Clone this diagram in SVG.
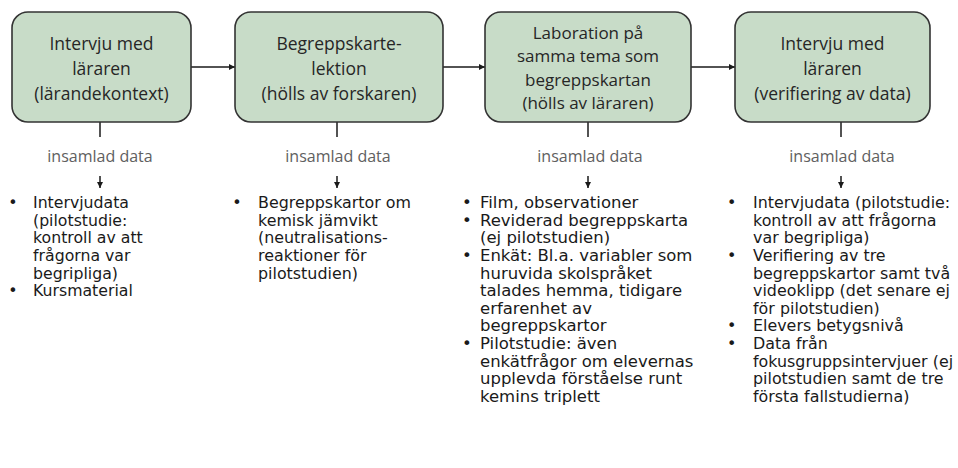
<svg xmlns="http://www.w3.org/2000/svg" width="958" height="468" viewBox="0 0 958 468">
<style>
.box{fill:#c8dcc8;stroke:#333333;stroke-width:1.6}
.bt{font-family:"Open Sans","Liberation Sans",sans-serif;font-size:17.5px;fill:#262626;text-anchor:middle}
.bt3{font-family:"Open Sans","Liberation Sans",sans-serif;font-size:17px;fill:#262626;text-anchor:middle}
.lbl{font-family:"Open Sans","Liberation Sans",sans-serif;font-size:16px;fill:#606060;text-anchor:middle}
.li{font-family:"DejaVu Sans","Liberation Sans",sans-serif;font-size:15px;fill:#1a1a1a}
.ln{stroke:#1a1a1a;stroke-width:1.5;fill:none}
</style>
<defs>
<marker id="ah" viewBox="0 0 10 10" refX="10" refY="5" markerWidth="6" markerHeight="6" orient="auto" markerUnits="userSpaceOnUse">
<path d="M0,0 L10,5 L0,10 z" fill="#1a1a1a"/>
</marker>
<marker id="ahs" viewBox="0 0 10 10" refX="10" refY="5" markerWidth="6" markerHeight="7" orient="auto" markerUnits="userSpaceOnUse">
<path d="M0,0 L10,5 L0,10 z" fill="#1a1a1a"/>
</marker>
</defs>

<g id="connectors">
<line class="ln" x1="191" y1="67" x2="235" y2="67" marker-end="url(#ah)"/>
<line class="ln" x1="443" y1="67" x2="485" y2="67" marker-end="url(#ah)"/>
<line class="ln" x1="691" y1="67" x2="735" y2="67" marker-end="url(#ah)"/>
<line class="ln" x1="100" y1="122" x2="100" y2="137"/>
<line class="ln" x1="337" y1="122" x2="337" y2="137"/>
<line class="ln" x1="588" y1="122" x2="588" y2="137"/>
<line class="ln" x1="841" y1="122" x2="841" y2="137"/>
<line class="ln" x1="100" y1="176" x2="100" y2="188" marker-end="url(#ahs)"/>
<line class="ln" x1="337" y1="176" x2="337" y2="188" marker-end="url(#ahs)"/>
<line class="ln" x1="588" y1="176" x2="588" y2="188" marker-end="url(#ahs)"/>
<line class="ln" x1="841" y1="176" x2="841" y2="188" marker-end="url(#ahs)"/>
</g>

<g id="node1">
<rect class="box" x="12" y="12" width="179" height="110" rx="16"/>
<text class="bt"><tspan x="101.5" y="50">Intervju med</tspan><tspan x="101.5" y="75">läraren</tspan><tspan x="101.5" y="100">(lärandekontext)</tspan></text>
</g>
<g id="node2">
<rect class="box" x="235" y="12" width="208" height="110" rx="16"/>
<text class="bt"><tspan x="339" y="50">Begreppskarte-</tspan><tspan x="339" y="75">lektion</tspan><tspan x="339" y="100">(hölls av forskaren)</tspan></text>
</g>
<g id="node3">
<rect class="box" x="485" y="12" width="206" height="110" rx="16"/>
<text class="bt3"><tspan x="588" y="39">Laboration på</tspan><tspan x="588" y="62.4">samma tema som</tspan><tspan x="588" y="85.8">begreppskartan</tspan><tspan x="588" y="109.2">(hölls av läraren)</tspan></text>
</g>
<g id="node4">
<rect class="box" x="735" y="12" width="195" height="110" rx="16"/>
<text class="bt"><tspan x="832.5" y="50">Intervju med</tspan><tspan x="832.5" y="75">läraren</tspan><tspan x="832.5" y="100">(verifiering av data)</tspan></text>
</g>

<g id="labels">
<text class="lbl" x="100" y="162">insamlad data</text>
<text class="lbl" x="338" y="162">insamlad data</text>
<text class="lbl" x="590" y="162">insamlad data</text>
<text class="lbl" x="842" y="162">insamlad data</text>
</g>

<g id="list1">
<text class="li" transform="translate(33,0) scale(1.05,1)"><tspan x="-23.5" y="208">•</tspan><tspan x="0" y="208">Intervjudata</tspan><tspan x="0" y="225.6">(pilotstudie:</tspan><tspan x="0" y="243.3">kontroll av att</tspan><tspan x="0" y="260.9">frågorna var</tspan><tspan x="0" y="278.6">begripliga)</tspan><tspan x="-23.5" y="296.2">•</tspan><tspan x="0" y="296.2">Kursmaterial</tspan></text>
</g>

<g id="list2">
<text class="li" transform="translate(258,0) scale(1.06,1)"><tspan x="-24.2" y="208">•</tspan><tspan x="0" y="208">Begreppskartor om</tspan><tspan x="0" y="225.6">kemisk jämvikt</tspan><tspan x="0" y="243.3">(neutralisations-</tspan><tspan x="0" y="260.9">reaktioner för</tspan><tspan x="0" y="278.6">pilotstudien)</tspan></text>
</g>

<g id="list3">
<text class="li" transform="translate(480,0) scale(1.1,1)"><tspan x="-16.3" y="208">•</tspan><tspan x="0" y="208">Film, observationer</tspan><tspan x="-16.3" y="225.6">•</tspan><tspan x="0" y="225.6">Reviderad begreppskarta</tspan><tspan x="0" y="243.3">(ej pilotstudien)</tspan><tspan x="-16.3" y="260.9">•</tspan><tspan x="0" y="260.9">Enkät: Bl.a. variabler som</tspan><tspan x="0" y="278.6">huruvida skolspråket</tspan><tspan x="0" y="296.2">talades hemma, tidigare</tspan><tspan x="0" y="313.9">erfarenhet av</tspan><tspan x="0" y="331.5">begreppskartor</tspan><tspan x="-16.3" y="349.2">•</tspan><tspan x="0" y="349.2">Pilotstudie: även</tspan><tspan x="0" y="366.8">enkätfrågor om elevernas</tspan><tspan x="0" y="384.5">upplevda förståelse runt</tspan><tspan x="0" y="402.1">kemins triplett</tspan></text>
</g>

<g id="list4">
<text class="li" transform="translate(753,0) scale(1.06,1)"><tspan x="-24.6" y="208">•</tspan><tspan x="0" y="208">Intervjudata (pilotstudie:</tspan><tspan x="0" y="225.6">kontroll av att frågorna</tspan><tspan x="0" y="243.3">var begripliga)</tspan><tspan x="-24.6" y="260.9">•</tspan><tspan x="0" y="260.9">Verifiering av tre</tspan><tspan x="0" y="278.6">begreppskartor samt två</tspan><tspan x="0" y="296.2">videoklipp (det senare ej</tspan><tspan x="0" y="313.9">för pilotstudien)</tspan><tspan x="-24.6" y="331.5">•</tspan><tspan x="0" y="331.5">Elevers betygsnivå</tspan><tspan x="-24.6" y="349.2">•</tspan><tspan x="0" y="349.2">Data från</tspan><tspan x="0" y="366.8">fokusgruppsintervjuer (ej</tspan><tspan x="0" y="384.5">pilotstudien samt de tre</tspan><tspan x="0" y="402.1">första fallstudierna)</tspan></text>
</g>
</svg>
